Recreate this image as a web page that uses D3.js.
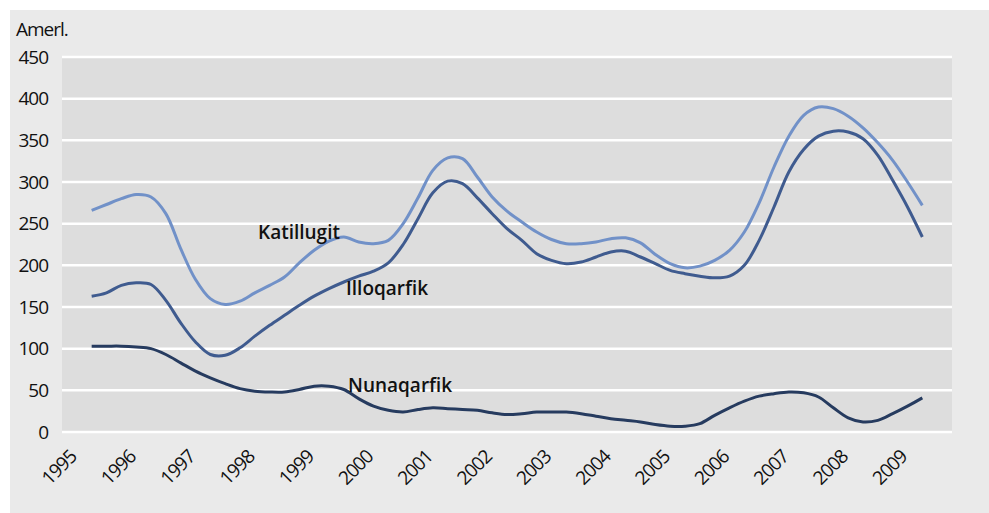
<!DOCTYPE html>
<html>
<head>
<meta charset="utf-8">
<script src="https://cdn.jsdelivr.net/npm/d3@7"></script>
<style>
  html, body { margin: 0; padding: 0; background: #ffffff; }
  svg { display: block; }
  text { font-family: "Open Sans", "Noto Sans", sans-serif; }
</style>
</head>
<body>
<svg id="chart" width="989" height="513"></svg>
<script>
// ---- data ----
const yearLabels = ["1995","1996","1997","1998","1999","2000","2001","2002","2003","2004","2005","2006","2007","2008","2009"];
const yTicks = [0, 50, 100, 150, 200, 250, 300, 350, 400, 450];
const unitLabel = "Amerl.";
// quarterly observations, 1995 Q1 .. 2009 Q1
const quarterTimes = d3.range(0, 57).map(i => 1995 + i / 4);
const katillugit = [266,273,280,285,282,262,220,183,160,153,157,167,176,186,203,218,229,234,228,226,230,250,281,314,329,328,306,282,265,252,240,231,226,226,228,232,233,227,213,202,197,199,206,218,240,275,318,355,380,390,388,379,365,347,326,300,272];
const illoqarfik = [163,167,176,179,177,158,131,108,93,92,101,115,128,140,152,163,172,180,187,193,203,225,256,287,301,298,281,262,244,230,214,206,202,204,210,216,217,210,202,194,190,187,185,187,200,230,270,312,339,355,361,360,352,332,302,270,234];
const nunaqarfik = [103,103,103,102,100,93,83,73,65,58,52,49,48,48,51,55,55,51,40,31,26,24,27,29,28,27,26,23,21,22,24,24,24,22,19,16,14,12,9,7,7,10,20,29,37,43,46,48,47,42,29,17,12,14,22,31,41];
const seriesNames = ["Katillugit", "Illoqarfik", "Nunaqarfik"];
const seriesColors = ["#7191c8", "#3f5b8f", "#263b5f"];
const labelAnchors = [[1999.2, 239], [1999.5, 295], [1999.5, 392]]; // [time, pixel baseline]

// ---- layout ----
const svg = d3.select("#chart");
const W = 989, H = 513;
const plot = { left: 62, right: 952, top: 57, bottom: 432 };

svg.append("rect").attr("x", 10).attr("y", 10).attr("width", W - 10).attr("height", H - 10).attr("fill", "#eaeaea");
svg.append("rect").attr("x", plot.left).attr("y", plot.top)
  .attr("width", plot.right - plot.left).attr("height", plot.bottom - plot.top).attr("fill", "#dddddd");

const x = d3.scaleLinear().domain([1994.5, 2009.5]).range([plot.left, plot.right]);
const y = d3.scaleLinear().domain([0, 450]).range([plot.bottom, plot.top]);

// gridlines
svg.append("g").selectAll("line").data(yTicks).join("line")
  .attr("x1", plot.left).attr("x2", plot.right)
  .attr("y1", d => y(d)).attr("y2", d => y(d))
  .attr("stroke", "#ffffff").attr("stroke-width", 2.5);

// y tick labels
svg.append("g").selectAll("text").data(yTicks).join("text")
  .attr("x", 48).attr("y", d => y(d)).attr("dy", "0.35em")
  .attr("text-anchor", "end").attr("font-size", 19).attr("letter-spacing", "-1px")
  .attr("fill", "#111").text(d => d);

svg.append("text").attr("x", 16).attr("y", 36).attr("font-size", 19).attr("letter-spacing", "-1px")
  .attr("fill", "#111").text(unitLabel);

// x tick labels
svg.append("g").selectAll("text").data(yearLabels).join("text")
  .attr("transform", d => `translate(${x(+d) - 14},458) rotate(-45)`)
  .attr("text-anchor", "end").attr("font-size", 19).attr("letter-spacing", "-1px")
  .attr("fill", "#111").text(d => d);

// lines
const line = d3.line().x((d, i) => x(quarterTimes[i])).y(d => y(d)).curve(d3.curveCatmullRom.alpha(0.5));
[katillugit, illoqarfik, nunaqarfik].forEach((vals, k) => {
  svg.append("path").datum(vals).attr("d", line)
    .attr("fill", "none").attr("stroke", seriesColors[k]).attr("stroke-width", 3)
    .attr("stroke-linejoin", "round").attr("stroke-linecap", "butt");
});

// series labels
const labelX = [258, 346, 348];
seriesNames.forEach((name, k) => {
  svg.append("text").attr("x", labelX[k]).attr("y", labelAnchors[k][1])
    .attr("font-size", 19).attr("font-weight", 600).attr("fill", "#111").text(name);
});
</script>
</body>
</html>
